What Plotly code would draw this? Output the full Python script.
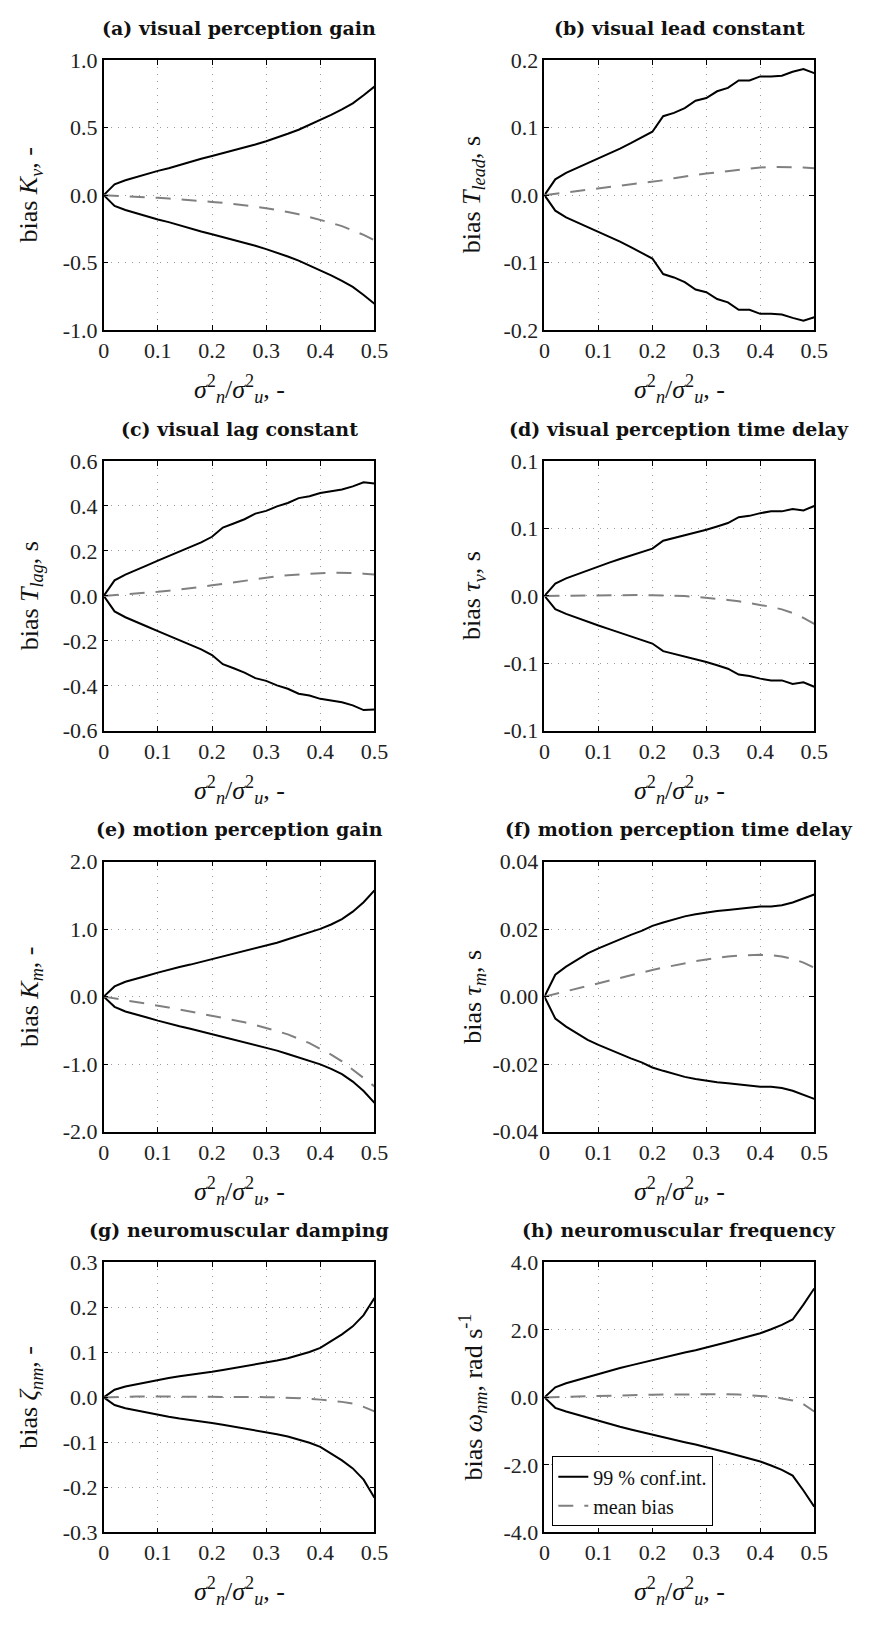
import plotly.graph_objects as go

# shared x values: noise variance ratio
x_ratio = [0.00, 0.02, 0.04, 0.06, 0.08, 0.10, 0.12, 0.14, 0.16, 0.18, 0.20, 0.22, 0.24,
           0.26, 0.28, 0.30, 0.32, 0.34, 0.36, 0.38, 0.40, 0.42, 0.44, 0.46, 0.48, 0.50]

# (a) visual perception gain
a_upper = [0, 0.08, 0.11, 0.135, 0.16, 0.18, 0.20, 0.225, 0.245, 0.27, 0.29, 0.31, 0.33,
           0.355, 0.375, 0.40, 0.425, 0.455, 0.485, 0.52, 0.556, 0.595, 0.635, 0.68, 0.74, 0.805]
a_lower = [0, -0.08, -0.11, -0.135, -0.16, -0.18, -0.20, -0.225, -0.245, -0.27, -0.29, -0.31, -0.33,
           -0.355, -0.375, -0.40, -0.425, -0.455, -0.485, -0.52, -0.556, -0.595, -0.635, -0.68, -0.74, -0.805]
a_mean = [0, -0.003, -0.006, -0.01, -0.015, -0.02, -0.025, -0.03, -0.035, -0.042, -0.05, -0.057, -0.065,
          -0.074, -0.085, -0.097, -0.11, -0.125, -0.142, -0.162, -0.183, -0.205, -0.23, -0.26, -0.295, -0.335]

# (b) visual lead constant
b_upper = [0, 0.0234, 0.033, 0.040, 0.048, 0.055, 0.062, 0.069, 0.077, 0.085, 0.094, 0.117, 0.122,
           0.129, 0.140, 0.144, 0.154, 0.159, 0.170, 0.170, 0.176, 0.176, 0.177, 0.183, 0.187, 0.181]
b_lower = [0, -0.023, -0.033, -0.040, -0.048, -0.055, -0.062, -0.069, -0.077, -0.085, -0.094, -0.117, -0.122,
           -0.129, -0.140, -0.144, -0.154, -0.159, -0.170, -0.170, -0.176, -0.176, -0.177, -0.182, -0.186, -0.181]
b_mean = [0, 0.002, 0.004, 0.006, 0.008, 0.010, 0.012, 0.014, 0.016, 0.018, 0.020, 0.022, 0.025,
          0.028, 0.030, 0.032, 0.034, 0.036, 0.038, 0.040, 0.041, 0.042, 0.042, 0.042, 0.041, 0.040]

# (c) visual lag constant
c_upper = [0, 0.069, 0.095, 0.117, 0.136, 0.157, 0.177, 0.197, 0.217, 0.238, 0.263, 0.304, 0.322,
           0.341, 0.366, 0.378, 0.398, 0.413, 0.435, 0.443, 0.458, 0.465, 0.473, 0.487, 0.505, 0.500]
c_lower = [0, -0.069, -0.095, -0.117, -0.136, -0.157, -0.177, -0.197, -0.217, -0.238, -0.263, -0.304, -0.322,
           -0.341, -0.366, -0.378, -0.398, -0.413, -0.435, -0.443, -0.458, -0.465, -0.473, -0.487, -0.508, -0.505]
c_mean = [0, 0.003, 0.006, 0.010, 0.014, 0.018, 0.023, 0.028, 0.034, 0.040, 0.047, 0.054, 0.061,
          0.068, 0.075, 0.082, 0.087, 0.092, 0.096, 0.099, 0.101, 0.103, 0.103, 0.102, 0.099, 0.095]

# (d) visual perception time delay
d_upper = [0, 0.0136, 0.0195, 0.024, 0.028, 0.033, 0.037, 0.041, 0.045, 0.049, 0.0526, 0.0614, 0.0643,
           0.0673, 0.0706, 0.0735, 0.0772, 0.081, 0.0875, 0.089, 0.092, 0.094, 0.094, 0.0967, 0.095, 0.100]
d_lower = [0, -0.0147, -0.020, -0.0245, -0.0285, -0.033, -0.037, -0.041, -0.045, -0.049, -0.053, -0.0614, -0.0643,
           -0.0673, -0.0706, -0.0735, -0.0772, -0.081, -0.0875, -0.089, -0.092, -0.094, -0.094, -0.098, -0.096, -0.101]
d_mean = [0, 0.0002, 0.0004, 0.0005, 0.0006, 0.0007, 0.0008, 0.0008, 0.0009, 0.0009, 0.0008, 0.0006, 0.0003,
          -0.0002, -0.0010, -0.0020, -0.0032, -0.0045, -0.0060, -0.0078, -0.0098, -0.0122, -0.015, -0.019, -0.0245, -0.031]

# (e) motion perception gain
e_upper = [0, 0.151, 0.22, 0.27, 0.31, 0.356, 0.40, 0.44, 0.475, 0.515, 0.556, 0.595, 0.635,
           0.675, 0.715, 0.76, 0.80, 0.85, 0.90, 0.95, 1.005, 1.07, 1.15, 1.26, 1.40, 1.576]
e_lower = [0, -0.151, -0.22, -0.27, -0.31, -0.356, -0.40, -0.44, -0.475, -0.515, -0.556, -0.595, -0.635,
           -0.675, -0.715, -0.76, -0.80, -0.85, -0.90, -0.95, -1.005, -1.07, -1.15, -1.26, -1.40, -1.576]
e_mean = [0, -0.025, -0.05, -0.077, -0.104, -0.13, -0.16, -0.19, -0.22, -0.25, -0.28, -0.31, -0.345,
          -0.38, -0.42, -0.46, -0.51, -0.56, -0.62, -0.69, -0.775, -0.86, -0.96, -1.08, -1.20, -1.33]

# (f) motion perception time delay
f_upper = [0, 0.0065, 0.0089, 0.0109, 0.0128, 0.0143, 0.0157, 0.017, 0.0183, 0.0195, 0.021, 0.022, 0.023,
           0.0238, 0.0244, 0.0250, 0.0254, 0.0257, 0.026, 0.0264, 0.0267, 0.0267, 0.0271, 0.0279, 0.029, 0.0303]
f_lower = [0, -0.0065, -0.0089, -0.0109, -0.0128, -0.0143, -0.0157, -0.017, -0.0183, -0.0195, -0.021, -0.022, -0.023,
           -0.0238, -0.0244, -0.0250, -0.0254, -0.0257, -0.026, -0.0264, -0.0267, -0.0267, -0.0271, -0.0279, -0.029, -0.0303]
f_mean = [0, 0.0008, 0.0016, 0.0025, 0.0033, 0.0041, 0.0049, 0.0057, 0.0064, 0.0072, 0.0079, 0.0086, 0.0093,
          0.0099, 0.0105, 0.0110, 0.0115, 0.0119, 0.0122, 0.0124, 0.0124, 0.0123, 0.0119, 0.0112, 0.0101, 0.0086]

# (g) neuromuscular damping
g_upper = [0, 0.017, 0.024, 0.029, 0.034, 0.039, 0.043, 0.047, 0.050, 0.054, 0.057, 0.061, 0.065,
           0.069, 0.073, 0.077, 0.082, 0.087, 0.094, 0.101, 0.110, 0.125, 0.140, 0.158, 0.183, 0.221]
g_lower = [0, -0.017, -0.024, -0.029, -0.034, -0.039, -0.043, -0.047, -0.050, -0.054, -0.057, -0.061, -0.065,
           -0.069, -0.073, -0.077, -0.082, -0.087, -0.094, -0.101, -0.110, -0.125, -0.140, -0.158, -0.183, -0.223]
g_mean = [0, 0.001, 0.0015, 0.002, 0.002, 0.002, 0.002, 0.002, 0.002, 0.002, 0.002, 0.002, 0.0018,
          0.0015, 0.001, 0.0005, 0.0, -0.0008, -0.0018, -0.003, -0.005, -0.007, -0.010, -0.014, -0.021, -0.031]

# (h) neuromuscular frequency
h_upper = [0, 0.30, 0.42, 0.51, 0.60, 0.71, 0.79, 0.87, 0.95, 1.03, 1.10, 1.18, 1.26,
           1.33, 1.40, 1.49, 1.56, 1.64, 1.72, 1.81, 1.90, 2.02, 2.15, 2.31, 2.75, 3.23]
h_lower = [0, -0.31, -0.42, -0.51, -0.60, -0.71, -0.79, -0.87, -0.95, -1.03, -1.10, -1.18, -1.26,
           -1.33, -1.40, -1.49, -1.56, -1.64, -1.72, -1.81, -1.90, -2.02, -2.15, -2.32, -2.76, -3.24]
h_mean = [0, 0.01, 0.02, 0.03, 0.04, 0.05, 0.055, 0.06, 0.07, 0.075, 0.08, 0.085, 0.09,
          0.095, 0.10, 0.10, 0.10, 0.095, 0.085, 0.07, 0.05, 0.02, -0.03, -0.09, -0.20, -0.42]

titles = ["(a) visual perception gain", "(b) visual lead constant", "(c) visual lag constant",
          "(d) visual perception time delay", "(e) motion perception gain",
          "(f) motion perception time delay", "(g) neuromuscular damping", "(h) neuromuscular frequency"]

y_titles = ["bias <i>K<sub>v</sub></i>, -", "bias <i>T<sub>lead</sub></i>, s",
            "bias <i>T<sub>lag</sub></i>, s", "bias <i>τ<sub>v</sub></i>, s",
            "bias <i>K<sub>m</sub></i>, -", "bias <i>τ<sub>m</sub></i>, s",
            "bias <i>ζ<sub>nm</sub></i>, -", "bias <i>ω<sub>nm</sub></i>, rad s<sup>-1</sup>"]

y_tickvals = [[-1, -0.5, 0, 0.5, 1], [-0.2, -0.1, 0, 0.1, 0.2], [-0.6, -0.4, -0.2, 0, 0.2, 0.4, 0.6],
              [-0.15, -0.075, 0, 0.075, 0.15], [-2, -1, 0, 1, 2], [-0.04, -0.02, 0, 0.02, 0.04],
              [-0.3, -0.2, -0.1, 0, 0.1, 0.2, 0.3], [-4, -2, 0, 2, 4]]
y_ticktext = [["-1.0", "-0.5", "0.0", "0.5", "1.0"], ["-0.2", "-0.1", "0.0", "0.1", "0.2"],
              ["-0.6", "-0.4", "-0.2", "0.0", "0.2", "0.4", "0.6"],
              ["-0.1", "-0.1", "0.0", "0.1", "0.1"], ["-2.0", "-1.0", "0.0", "1.0", "2.0"],
              ["-0.04", "-0.02", "0.00", "0.02", "0.04"],
              ["-0.3", "-0.2", "-0.1", "0.0", "0.1", "0.2", "0.3"], ["-4.0", "-2.0", "0.0", "2.0", "4.0"]]
y_ranges = [[-1, 1], [-0.2, 0.2], [-0.6, 0.6], [-0.15, 0.15], [-2, 2], [-0.04, 0.04], [-0.3, 0.3], [-4, 4]]

x_tickvals = [0, 0.1, 0.2, 0.3, 0.4, 0.5]
x_ticktext = ["0", "0.1", "0.2", "0.3", "0.4", "0.5"]
x_title = "<i>σ</i><sup>2</sup><sub><i>n</i></sub>/<i>σ</i><sup>2</sup><sub><i>u</i></sub>, -"

uppers = [a_upper, b_upper, c_upper, d_upper, e_upper, f_upper, g_upper, h_upper]
lowers = [a_lower, b_lower, c_lower, d_lower, e_lower, f_lower, g_lower, h_lower]
means = [a_mean, b_mean, c_mean, d_mean, e_mean, f_mean, g_mean, h_mean]

W, H = 881, 1627
col_px = [(100, 377), (551, 827)]
row_px = [(49, 323), (456, 730), (863, 1137), (1270, 1544)]
ytitle_x = [25, 478]

SERIF = "Liberation Serif"
BOLD = "DejaVu Serif"

fig = go.Figure()
annotations = []
layout = {}
for i in range(8):
    r, c = divmod(i, 2)
    x0, x1 = col_px[c]
    t0, b0 = row_px[r]
    xa = "xaxis" if i == 0 else f"xaxis{i+1}"
    ya = "yaxis" if i == 0 else f"yaxis{i+1}"
    xr = "x" if i == 0 else f"x{i+1}"
    yr = "y" if i == 0 else f"y{i+1}"
    common = dict(showline=True, linecolor="black", linewidth=1.5, mirror="ticks",
                  ticks="inside", ticklen=5, tickcolor="black", zeroline=False,
                  showgrid=True, gridcolor="#9a9a9a", gridwidth=1, griddash="1px,6px",
                  tickfont=dict(family=SERIF, size=22, color="#222"))
    layout[xa] = dict(domain=[x0 / W, x1 / W], range=[0, 0.5], anchor=yr,
                      tickvals=x_tickvals, ticktext=x_ticktext, **common)
    layout[ya] = dict(domain=[1 - b0 / H, 1 - t0 / H], range=y_ranges[i], anchor=xr,
                      tickvals=y_tickvals[i], ticktext=y_ticktext[i], **common)
    show = (i == 7)
    fig.add_trace(go.Scatter(x=x_ratio, y=uppers[i], mode="lines", xaxis=xr, yaxis=yr,
                             line=dict(color="black", width=2), name="99 % conf.int.",
                             showlegend=show))
    fig.add_trace(go.Scatter(x=x_ratio, y=lowers[i], mode="lines", xaxis=xr, yaxis=yr,
                             line=dict(color="black", width=2), showlegend=False))
    fig.add_trace(go.Scatter(x=x_ratio, y=means[i], mode="lines", xaxis=xr, yaxis=yr,
                             line=dict(color="#808080", width=2, dash="15px,11px"),
                             name="mean bias", showlegend=show))
    cx = (x0 + x1) / 2
    annotations.append(dict(text="<b>" + titles[i] + "</b>", x=cx / W, y=1 - (t0 - 33) / H,
                            xref="paper", yref="paper", showarrow=False, xanchor="center",
                            yanchor="middle", font=dict(family=BOLD, size=19, color="#111")))
    annotations.append(dict(text=x_title, x=cx / W, y=1 - (b0 + 60) / H,
                            xref="paper", yref="paper", showarrow=False, xanchor="center",
                            yanchor="middle", font=dict(family=SERIF, size=26, color="#111")))
    annotations.append(dict(text=y_titles[i], x=ytitle_x[c] / W, y=1 - ((t0 + b0) / 2) / H,
                            xref="paper", yref="paper", showarrow=False, xanchor="center",
                            yanchor="middle", textangle=-90,
                            font=dict(family=SERIF, size=26, color="#111")))

fig.update_layout(**layout)
fig.update_layout(
    width=W, height=H, margin=dict(l=0, r=0, t=0, b=0),
    paper_bgcolor="white", plot_bgcolor="white",
    annotations=annotations,
    legend=dict(x=559 / W, y=1 - 1538 / H, xanchor="left", yanchor="bottom",
                bgcolor="white", bordercolor="black", borderwidth=1,
                font=dict(family=SERIF, size=20, color="#111"),
                tracegroupgap=0, itemwidth=30),
)

fig.write_html("out.html")
